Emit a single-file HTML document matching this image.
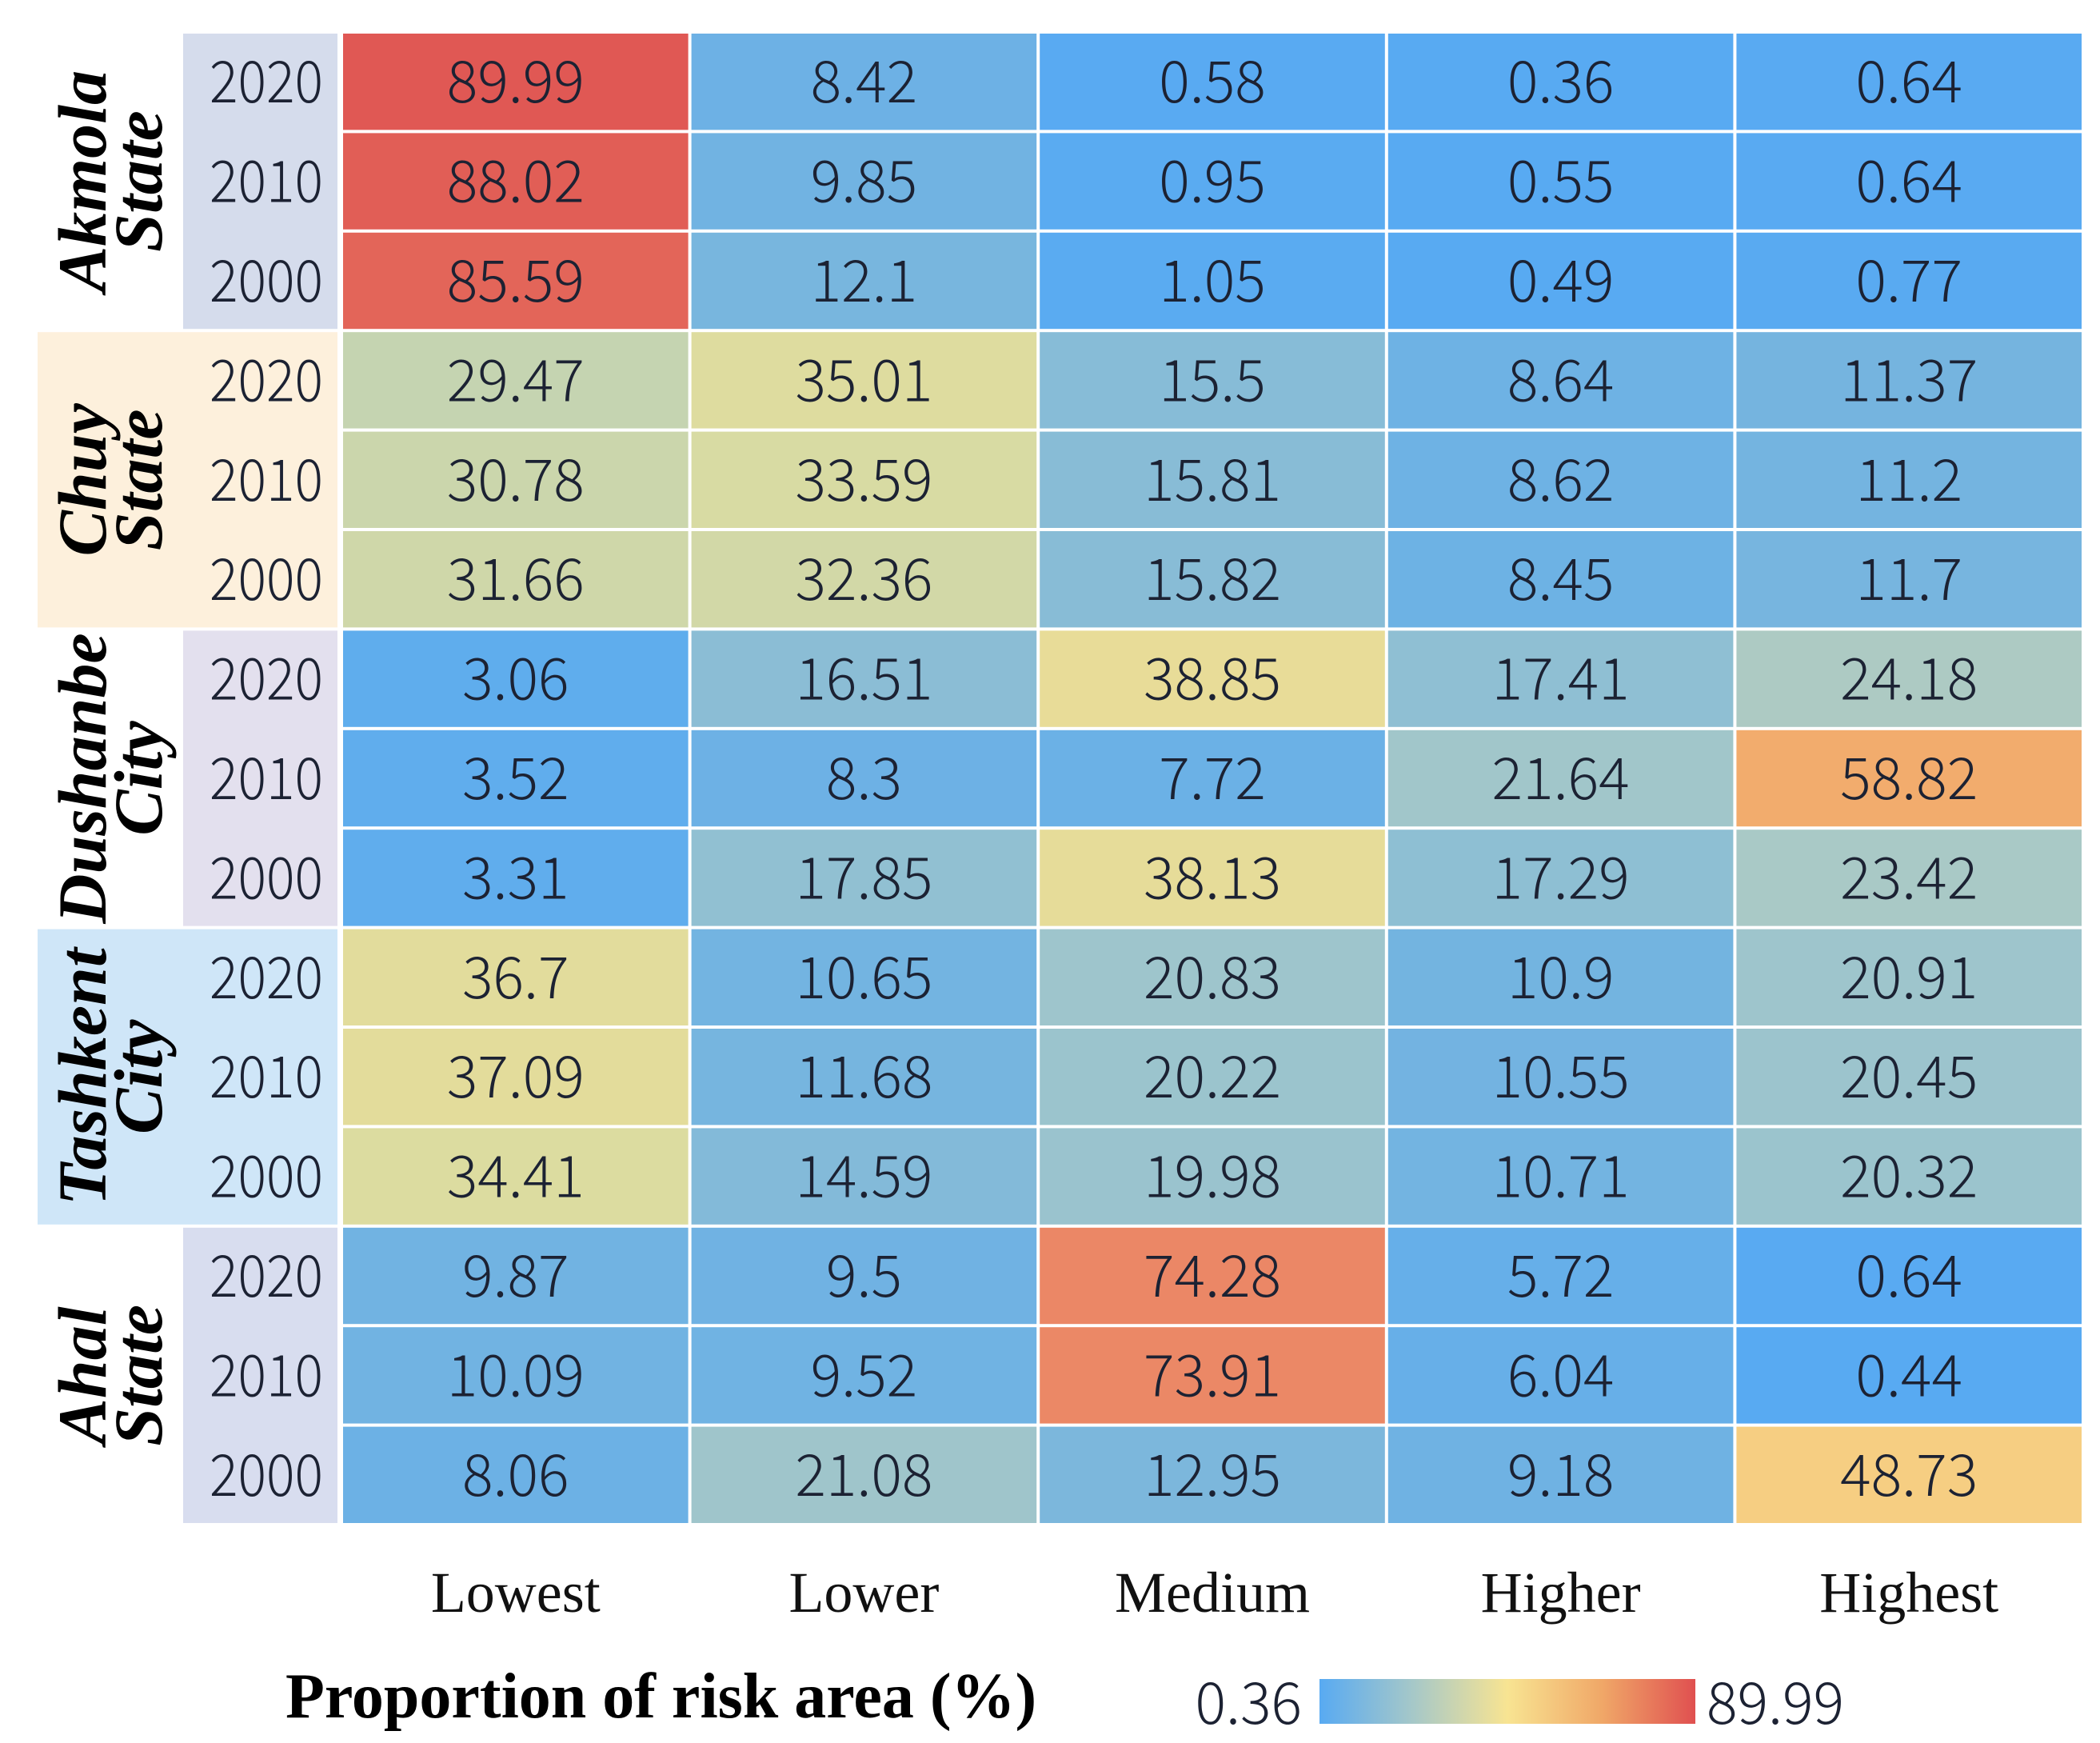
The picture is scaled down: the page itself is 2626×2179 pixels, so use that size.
<!DOCTYPE html>
<html><head><meta charset="utf-8"><style>
html,body{margin:0;padding:0;background:#fff;}
svg{display:block;}
.num{font-family:"Noto Sans CJK SC","Liberation Sans",sans-serif;font-weight:300;font-size:72px;fill:#1c2233;}
.grp{font-family:"Liberation Serif",serif;font-weight:bold;font-style:italic;font-size:86px;fill:#000;}
.col{font-family:"Liberation Serif",serif;font-size:72px;fill:#111;}
.ttl{font-family:"Liberation Serif",serif;font-weight:bold;font-size:80px;fill:#000;}
</style></head><body>
<svg id="chart" width="2626" height="2179" viewBox="0 0 2626 2179" xmlns="http://www.w3.org/2000/svg">
<defs><linearGradient id="cbg" x1="0" x2="1" y1="0" y2="0">
<stop offset="0" stop-color="#58aaf2"/><stop offset="0.25" stop-color="#a6c8c8"/><stop offset="0.5" stop-color="#f8e492"/><stop offset="0.75" stop-color="#f0a868"/><stop offset="1" stop-color="#e05050"/></linearGradient></defs>
<g id="bg"></g><g id="cells"></g><g id="labels"></g>
</svg>
<script>
const groups = ["Akmola|State","Chuy|State","Dushanbe|City","Tashkent|City","Ahal|State"];
const years = ["2020","2010","2000"];
const categories = ["Lowest","Lower","Medium","Higher","Highest"];
const lowest  = [89.99,88.02,85.59, 29.47,30.78,31.66, 3.06,3.52,3.31, 36.7,37.09,34.41, 9.87,10.09,8.06];
const lower   = [8.42,9.85,12.1, 35.01,33.59,32.36, 16.51,8.3,17.85, 10.65,11.68,14.59, 9.5,9.52,21.08];
const medium  = [0.58,0.95,1.05, 15.5,15.81,15.82, 38.85,7.72,38.13, 20.83,20.22,19.98, 74.28,73.91,12.95];
const higher  = [0.36,0.55,0.49, 8.64,8.62,8.45, 17.41,21.64,17.29, 10.9,10.55,10.71, 5.72,6.04,9.18];
const highest = [0.64,0.64,0.77, 11.37,11.2,11.7, 24.18,58.82,23.42, 20.91,20.45,20.32, 0.64,0.44,48.73];
const labelsTxt = ["Lowest","Lower","Medium","Higher","Highest"];
const groupBg = ["#d5dcec","#fdf0dc","#e3e0ee","#cfe6f8","#d8ddef"];
const groupFull = [false,true,false,true,false];
const series = [lowest,lower,medium,higher,highest];
const vmin = 0.36, vmax = 89.99;

const NS="http://www.w3.org/2000/svg";
const X0=427, COLW=435.6, Y0=40, ROWH=124.4, GAP=4;
const xAt=c=>X0+c*COLW, yAt=r=>Y0+r*ROWH;
const stops=[[0,[88,170,242]],[0.12,[116,180,224]],[0.25,[166,200,200]],[0.38,[220,220,160]],[0.5,[248,220,140]],[0.62,[243,178,110]],[0.8,[236,142,104]],[1,[224,88,84]]];
function color(v){let t=(v-vmin)/(vmax-vmin);t=Math.max(0,Math.min(1,t));
 for(let i=1;i<stops.length;i++){if(t<=stops[i][0]){const a=stops[i-1],b=stops[i];const f=(t-a[0])/(b[0]-a[0]);
 const c=a[1].map((x,k)=>Math.round(x+(b[1][k]-x)*f));return `rgb(${c})`;}}return "rgb(224,88,84)";}
function mk(tag,attrs,parent){const e=document.createElementNS(NS,tag);for(const k in attrs)e.setAttribute(k,attrs[k]);parent.appendChild(e);return e;}
const bg=document.getElementById('bg'),cells=document.getElementById('cells'),lab=document.getElementById('labels');

groups.forEach((g,gi)=>{
 const gy=yAt(gi*3);
 const bx=groupFull[gi]?47:229;
 const r=mk('rect',{x:bx,y:gy+GAP/2,width:422-bx,height:ROWH*3-GAP},bg);r.setAttribute('fill',groupBg[gi]);
 
 
 const parts=g.split('|');
 const cy=gy+ROWH*1.5;
 const t=mk('text',{class:'grp',transform:`translate(132,${cy}) rotate(-90)`,'text-anchor':'middle'},lab);
 
 
 const s1=mk('tspan',{x:0,y:0},t);s1.textContent=parts[0];
 const s2=mk('tspan',{x:0,dy:70},t);s2.textContent=parts[1];
 years.forEach((yr,yi)=>{
  const ty=mk('text',{class:'num',x:333,y:yAt(gi*3+yi)+ROWH/2+26,'text-anchor':'middle',textLength:142,lengthAdjust:'spacingAndGlyphs'},lab);
  
  
  ty.textContent=yr;
 });
});

series.forEach((arr,c)=>{
 arr.forEach((v,r)=>{
  const rc=mk('rect',{x:xAt(c)+GAP/2,y:yAt(r)+GAP/2,width:COLW-GAP,height:ROWH-GAP,fill:color(v)},cells);
  
  
  const t=mk('text',{class:'num',x:xAt(c)+COLW/2,y:yAt(r)+ROWH/2+26,'text-anchor':'middle'},lab);
  
  
  t.textContent=String(v);
 });
});

categories.forEach((c,i)=>{
 const t=mk('text',{class:'col',x:xAt(i)+COLW/2,y:2015,'text-anchor':'middle'},lab);
 
 
 t.textContent=labelsTxt[i];
});

const tt=mk('text',{class:'ttl',x:357,y:2147},lab);


tt.textContent="Proportion of risk area (%)";
const cb=mk('rect',{x:1650,y:2099,width:470,height:56,fill:'url(#cbg)'},lab);


const l0=mk('text',{class:'num',x:1628,y:2155,'text-anchor':'end'},lab);


l0.textContent=String(vmin);
const l1=mk('text',{class:'num',x:2134,y:2155},lab);


l1.textContent=String(vmax);
</script>
</body></html>
